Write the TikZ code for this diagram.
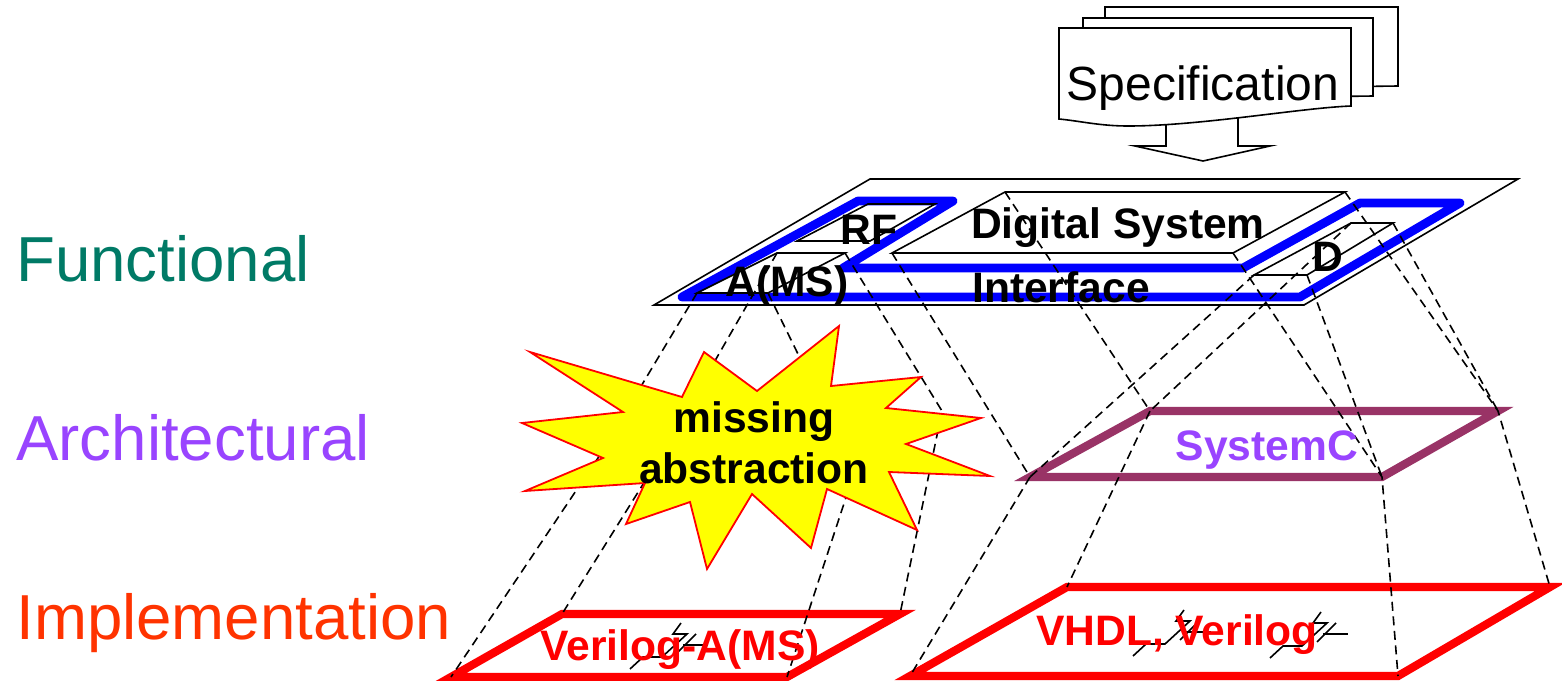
\documentclass[tikz,border=0pt]{standalone}
\usepackage{fontspec}
\setmainfont{Liberation Sans}
\definecolor{funcgreen}{RGB}{0, 122, 102}
\definecolor{archviolet}{RGB}{153, 68, 255}
\definecolor{implorange}{RGB}{255, 51, 0}
\definecolor{planeplum}{RGB}{153, 51, 102}
\definecolor{planered}{RGB}{255, 0, 0}
\definecolor{burstyellow}{RGB}{255, 255, 0}
\definecolor{pathblue}{RGB}{0, 0, 255}
\usetikzlibrary{positioning}
\tikzset{
  levellabel/.style={anchor=base west, inner sep=0pt, font=\fontsize{31.8}{36}\selectfont},
  planelabel/.style={anchor=base, inner sep=0pt, font=\fontsize{21.3}{25.5}\selectfont\bfseries},
  thinplane/.style={draw=black, line width=0.8pt},
  thickplane/.style={line width=4.1pt},
  sheet/.style={draw=black, fill=white, line width=0.8pt},
  mapline/.style={dash pattern=on 4.5pt off 2.8pt, line width=0.8pt}
}

\begin{document}
\begin{tikzpicture}[x=0.5pt, y=-0.5pt]
  \useasboundingbox (0,0) rectangle (1562,680);

  % Level names
  \node[levellabel, text=funcgreen] (functional) at (16,281) {Functional};
  \node[levellabel, text=archviolet] (architectural) at (16,460) {Architectural};
  \node[levellabel, text=implorange] (implementation) at (16,639) {Implementation};

  % Specification
  \draw[sheet] (1105,7) -- (1398,7) -- (1398,86) -- (1105,90) -- cycle;
  \draw[sheet] (1083,18) -- (1373,18) -- (1373,96) -- (1083,100) -- cycle;
  \draw[sheet] (1166,120) -- (1166,146) -- (1135,146) -- (1203,161) -- (1270,146) -- (1238,146) -- (1238,110) -- cycle;
  \draw[sheet] (1059,28) -- (1351,28) -- (1351,106) .. controls (1300,108) and (1200,126) .. (1128,126) .. controls (1100,126) and (1080,121) .. (1059,119) -- cycle;
  \node[anchor=base, inner sep=0pt, font=\fontsize{24}{28}\selectfont] (spec) at (1203,100) {Specification};

  % Functional plane
  \draw[thinplane] (654,305) -- (870,179) -- (1518,179) -- (1304,305) -- cycle;
  \draw[pathblue, line width=4.4pt, line cap=round, line join=round] (682,297) -- (858,201) -- (953,201) -- (843,268) -- (1243,268) -- (1360,203) -- (1460,203) -- (1300,297) -- cycle;
  \draw[thinplane] (797,241) -- (868,204) -- (935,204) -- (870,241) -- cycle;
  \coordinate (ams1) at (697,293);
  \coordinate (ams2) at (777,253);
  \coordinate (ams3) at (845,253);
  \coordinate (ams4) at (768,293);
  \draw[thinplane] (ams1) -- (ams2) -- (ams3) -- (ams4) -- cycle;
  \coordinate (dig1) at (892,253);
  \coordinate (dig2) at (1005,192);
  \coordinate (dig3) at (1345,192);
  \coordinate (dig4) at (1233,253);
  \draw[thinplane] (dig1) -- (dig2) -- (dig3) -- (dig4) -- cycle;
  \coordinate (dd1) at (1254,275);
  \coordinate (dd2) at (1351,223);
  \coordinate (dd3) at (1393,223);
  \coordinate (dd4) at (1307,275);
  \draw[thinplane] (dd1) -- (dd2) -- (dd3) -- (dd4) -- cycle;

  % Lower planes
  \coordinate (sc1) at (1030,477);
  \coordinate (sc2) at (1150,411);
  \coordinate (sc3) at (1498,411);
  \coordinate (sc4) at (1382,477);
  \draw[thickplane, planeplum] (sc1) -- (sc2) -- (sc3) -- (sc4) -- cycle;
  \coordinate (va1) at (451,677);
  \coordinate (va2) at (562,614);
  \coordinate (va3) at (900,614);
  \coordinate (va4) at (787,677);
  \draw[thickplane, planered] (va1) -- (va2) -- (va3) -- (va4) -- cycle;
  \coordinate (vh1) at (910,676);
  \coordinate (vh2) at (1067,587);
  \coordinate (vh3) at (1550,587);
  \coordinate (vh4) at (1398,676);
  \draw[thickplane, planered] (vh1) -- (vh2) -- (vh3) -- (vh4) -- cycle;

  % Gate marks
  \foreach \gx/\gy in {630/669, 1133/656, 1270/658} {
    \draw[line width=0.8pt, shift={(\gx,\gy)}] (0,0) -- (13,-12) -- (32,-12) -- (57,-35) -- (43,-35) -- (51,-46);
    \draw[line width=0.8pt, shift={(\gx,\gy)}] (66,-35) -- (47,-16);
    \draw[line width=0.8pt, shift={(\gx,\gy)}] (53,-24) -- (78,-24);
  }

  % Mappings
  \draw[mapline] (ams1) -- (598,458) -- (va1);
  \draw[mapline] (ams2) -- (655,465) -- (va2);
  \draw[mapline] (ams3) -- (942,411) -- (va3);
  \draw[mapline] (ams4) -- (855,470) -- (va4);
  \draw[mapline] (dig1) -- (sc1) -- (vh1);
  \draw[mapline] (dig2) -- (sc2) -- (vh2);
  \draw[mapline] (dig3) -- (sc3) -- (vh3);
  \draw[mapline] (dig4) -- (sc4) -- (vh4);
  \draw[mapline] (dd1) -- (sc1);
  \draw[mapline] (dd2) -- (sc2);
  \draw[mapline] (dd3) -- (sc3);
  \draw[mapline] (dd4) -- (sc4);

  % Missing level
  \draw[planered, fill=burstyellow, line width=0.9pt] (530,352) -- (682,397) -- (704,352) -- (757,391) -- (839,326) -- (831,386) -- (921,377) -- (886,408) -- (981,418) -- (906,444) -- (990,476) -- (889,472) -- (917,530) -- (827,489) -- (811,548) -- (752,494) -- (707,569) -- (690,502) -- (626,524) -- (645,483) -- (525,491) -- (603,458) -- (522,423) -- (623,412) -- cycle;
  \node[planelabel, anchor=center, align=center] (missing) at (754,443) {missing\\abstraction};

  % Plane names
  \node[planelabel] (rf) at (869,244) {RF};
  \node[planelabel] (digital) at (1118,238) {Digital System};
  \node[planelabel] (ams) at (787,296) {A(MS)};
  \node[planelabel] (interface) at (1061,302) {Interface};
  \node[planelabel] (dnode) at (1328,271) {D};
  \node[planelabel, text=archviolet] (systemc) at (1267,460) {SystemC};
  \node[planelabel, text=planered] (veriloga) at (680,660) {Verilog-A(MS)};
  \node[planelabel, text=planered] (vhdl) at (1177,645) {VHDL, Verilog};
\end{tikzpicture}
\end{document}
